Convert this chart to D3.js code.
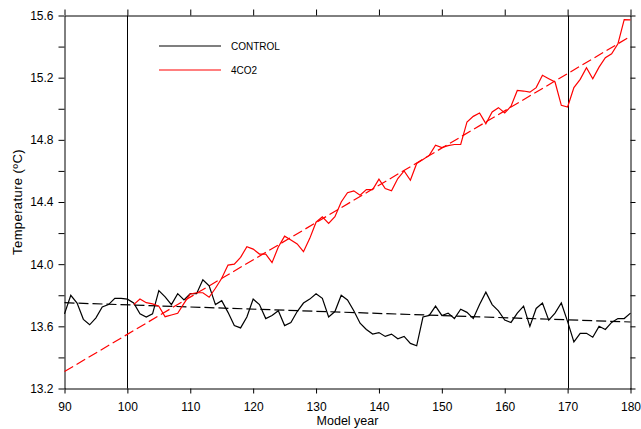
<!DOCTYPE html>
<html>
<head>
<meta charset="utf-8">
<script src="https://cdn.jsdelivr.net/npm/d3@7"></script>
<style>
  body { margin: 0; background: #fff; }
  text { font-family: 'Liberation Sans', Arial, Helvetica, sans-serif; fill: #000; }
</style>
</head>
<body>
<div id="tempChart"></div>
<script>
// model years and annual mean temperature (ºC)
const controlStart = 90
const controlTemps = [
  13.68, 13.80, 13.75, 13.645, 13.61, 13.655, 13.725, 13.74, 13.78, 13.78,
  13.775, 13.75, 13.68, 13.66, 13.68, 13.83, 13.79, 13.74, 13.81, 13.77,
  13.81, 13.81, 13.90, 13.86, 13.74, 13.765, 13.69, 13.605, 13.59, 13.66,
  13.775, 13.74, 13.65, 13.67, 13.70, 13.605, 13.625, 13.695, 13.75, 13.775,
  13.81, 13.78, 13.66, 13.695, 13.80, 13.77, 13.70, 13.62, 13.58, 13.55,
  13.56, 13.535, 13.55, 13.52, 13.535, 13.49, 13.475, 13.66, 13.67, 13.73,
  13.67, 13.685, 13.65, 13.71, 13.69, 13.65, 13.74, 13.82, 13.74, 13.70,
  13.64, 13.625, 13.685, 13.73, 13.60, 13.715, 13.75, 13.64, 13.685, 13.75,
  13.63, 13.50, 13.555, 13.555, 13.53, 13.60, 13.58, 13.625, 13.65, 13.65,
  13.685
]
const co2Start = 101
const co2Temps = [
  13.74, 13.776, 13.752, 13.744, 13.73, 13.662, 13.673, 13.684, 13.748,
  13.808, 13.816, 13.816, 13.787, 13.845, 13.909, 13.994, 14.0, 14.044, 14.112,
  14.097, 14.065, 14.065, 14.01, 14.11, 14.18, 14.155, 14.13, 14.08, 14.166,
  14.27, 14.305, 14.262, 14.305, 14.40, 14.46, 14.472, 14.444, 14.48, 14.48,
  14.547, 14.487, 14.472, 14.551, 14.60, 14.54, 14.648, 14.673, 14.70, 14.765,
  14.75, 14.763, 14.77, 14.77, 14.915, 14.951, 14.973, 14.904, 14.979, 15.007,
  14.973, 15.016, 15.118, 15.114, 15.107, 15.136, 15.215, 15.193, 15.172, 15.022,
  15.011, 15.136, 15.189, 15.264, 15.193, 15.268, 15.328, 15.354, 15.418, 15.574,
  15.572
]
// linear trends (end points at year 90 and 180)
const trendYears = [90, 180]
const controlTrend = [13.752, 13.628]
const co2Trend = [13.309, 15.466]
// marked years
const markYears = [100, 170]
// axis ticks
const xTicks = [90, 100, 110, 120, 130, 140, 150, 160, 170, 180]
const yTicks = [13.2, 13.4, 13.6, 13.8, 14.0, 14.2, 14.4, 14.6, 14.8, 15.0, 15.2, 15.4, 15.6]
const yLabels = [13.2, 13.6, 14.0, 14.4, 14.8, 15.2, 15.6]
const legendNames = ['CONTROL', '4CO2']
const legendColors = ['#000', '#ff0000']

const width = 641, height = 429
const margin = {top: 15.5, right: 10.5, bottom: 40.5, left: 64.5}

const svg = d3
  .select('#tempChart')
  .append('svg')
  .attr('width', width)
  .attr('height', height)

const x = d3
  .scaleLinear()
  .domain([90, 180])
  .range([margin.left, width - margin.right])
const y = d3
  .scaleLinear()
  .domain([13.2, 15.6])
  .range([height - margin.bottom, margin.top])

const control = controlTemps.map(function(t, i) {
  return {year: controlStart + i, temp: t}
})
const co2 = co2Temps.map(function(t, i) {
  return {year: co2Start + i, temp: t}
})

const line = d3
  .line()
  .x(function(d) { return x(d.year) })
  .y(function(d) { return y(d.temp) })

// axes, ticks pointing outward
function styleAxis(g) {
  g.select('.domain').attr('stroke', '#000').attr('stroke-width', 1)
  g.selectAll('.tick line').attr('stroke', '#000').attr('stroke-width', 1)
  g.selectAll('.tick text').style('font-size', '12px').attr('fill', '#000')
}

svg
  .append('g')
  .attr('transform', `translate(0,${height - margin.bottom})`)
  .call(d3.axisBottom(x).tickValues(xTicks).tickSize(5).tickSizeOuter(0).tickPadding(9).tickFormat(d3.format('d')))
  .call(styleAxis)
svg
  .append('g')
  .attr('transform', `translate(0,${margin.top})`)
  .call(d3.axisTop(x).tickValues(xTicks).tickSize(6).tickSizeOuter(0).tickFormat(''))
  .call(styleAxis)
svg
  .append('g')
  .attr('transform', `translate(${margin.left},0)`)
  .call(
    d3.axisLeft(y).tickValues(yTicks).tickSize(6).tickSizeOuter(0).tickPadding(5)
      .tickFormat(function(d) {
        return yLabels.some(function(v) { return Math.abs(v - d) < 1e-6 }) ? d3.format('.1f')(d) : ''
      })
  )
  .call(styleAxis)
svg
  .append('g')
  .attr('transform', `translate(${width - margin.right},0)`)
  .call(d3.axisRight(y).tickValues(yTicks).tickSize(5).tickSizeOuter(0).tickFormat(''))
  .call(styleAxis)

// vertical marker lines
svg
  .selectAll('.mark')
  .data(markYears)
  .enter()
  .append('line')
  .attr('class', 'mark')
  .attr('x1', function(d) { return Math.round(x(d)) + 0.5 })
  .attr('x2', function(d) { return Math.round(x(d)) + 0.5 })
  .attr('y1', y(13.2))
  .attr('y2', y(15.6))
  .attr('stroke', '#000')
  .attr('stroke-width', 1)

// trend lines
const trends = [controlTrend, co2Trend]
svg
  .selectAll('.trend')
  .data(trends)
  .enter()
  .append('line')
  .attr('class', 'trend')
  .attr('x1', x(trendYears[0]))
  .attr('x2', x(trendYears[1]))
  .attr('y1', function(d) { return y(d[0]) })
  .attr('y2', function(d) { return y(d[1]) })
  .attr('stroke', function(d, i) { return legendColors[i] })
  .attr('stroke-width', 1.2)
  .attr('stroke-dasharray', '10,4')

svg
  .append('path')
  .datum(control)
  .attr('d', line)
  .attr('fill', 'none')
  .attr('stroke', legendColors[0])
  .attr('stroke-width', 1.2)
svg
  .append('path')
  .datum(co2)
  .attr('d', line)
  .attr('fill', 'none')
  .attr('stroke', legendColors[1])
  .attr('stroke-width', 1.2)

// legend
const legend = svg
  .selectAll('.legend')
  .data(legendNames)
  .enter()
  .append('g')
  .attr('class', 'legend')
  .attr('transform', function(d, i) { return `translate(159,${46 + i * 24})` })
legend
  .append('line')
  .attr('x1', 0)
  .attr('x2', 62)
  .attr('stroke', function(d, i) { return legendColors[i] })
  .attr('stroke-width', 1.2)
legend
  .append('text')
  .attr('x', 72)
  .attr('dy', '0.36em')
  .style('font-size', '10px')
  .text(function(d) { return d })

// axis titles
svg
  .append('text')
  .attr('x', (margin.left + width - margin.right) / 2)
  .attr('y', 425)
  .attr('text-anchor', 'middle')
  .style('font-size', '12.5px')
  .text('Model year')
svg
  .append('text')
  .attr('transform', `translate(22,${(margin.top + height - margin.bottom) / 2}) rotate(-90)`)
  .attr('text-anchor', 'middle')
  .style('font-size', '13px')
  .style('letter-spacing', '0.4px')
  .text('Temperature (ºC)')
</script>
</body>
</html>
